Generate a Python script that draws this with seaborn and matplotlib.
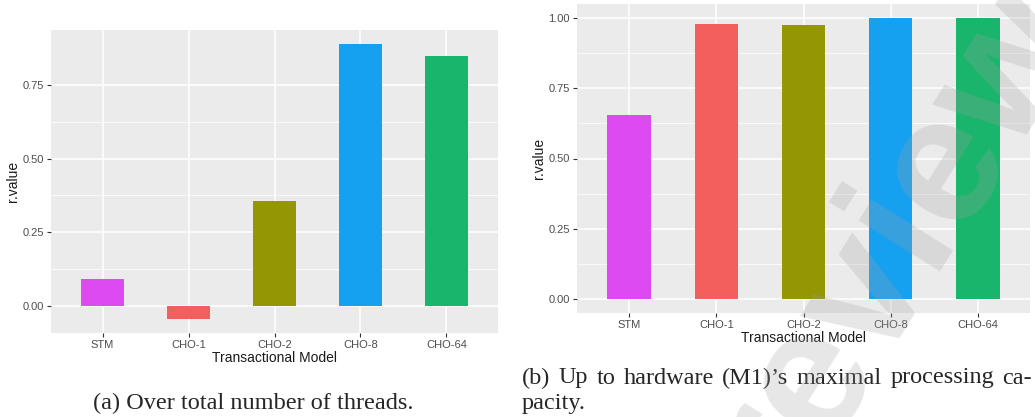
import matplotlib
matplotlib.use("Agg")
import matplotlib.pyplot as plt
from matplotlib.ticker import FixedLocator
import seaborn as sns

# data
models = ["STM", "CHO-1", "CHO-2", "CHO-8", "CHO-64"]
r_threads = [0.091, -0.046, 0.355, 0.891, 0.850]
r_hardware = [0.654, 0.980, 0.974, 1.000, 1.000]
bar_colors = ["#DD4AF0", "#F25F5C", "#949603", "#16A0F0", "#1AB56C"]

yticks_a = [0.0, 0.25, 0.5, 0.75]
yticks_b = [0.0, 0.25, 0.5, 0.75, 1.0]

sns.set_style("darkgrid", {"axes.facecolor": "#EBEBEB", "grid.color": "white"})
plt.rcParams["font.family"] = ["Liberation Sans", "DejaVu Sans"]

W, H = 1035, 417
fig = plt.figure(figsize=(W / 100, H / 100), dpi=100)


def px_axes(x0, y0, x1, y1):
    return fig.add_axes([x0 / W, 1 - y1 / H, (x1 - x0) / W, (y1 - y0) / H])


def gg_bar(ax, values, ylim, yticks):
    sns.barplot(x=models, y=values, hue=models, palette=bar_colors, width=0.5,
                saturation=1, linewidth=0, legend=False, ax=ax, zorder=3)
    ax.set_xlim(-0.6, len(models) - 0.4)
    ax.set_ylim(*ylim)
    ax.yaxis.set_major_locator(FixedLocator(yticks))
    ax.set_yticklabels([f"{t:.2f}" for t in yticks])
    minors = [t + 0.125 for t in yticks[:-1]]
    ax.yaxis.set_minor_locator(FixedLocator(minors))
    ax.grid(which="major", color="white", linewidth=1.1, zorder=0)
    ax.grid(which="minor", axis="y", color="white", linewidth=0.55, zorder=0)
    ax.set_axisbelow(True)
    for s in ax.spines.values():
        s.set_visible(False)
    ax.tick_params(axis="both", which="major", length=3, width=0.8, color="#333333",
                   labelsize=8, labelcolor="#4D4D4D", pad=2, bottom=True, left=True)
    ax.tick_params(axis="both", which="minor", length=0)
    ax.set_xlabel("Transactional Model", fontsize=10, color="#1A1A1A", labelpad=1)
    ax.set_ylabel("r.value", fontsize=10, color="#1A1A1A", labelpad=2)


ax1 = px_axes(51, 30, 498, 333)
gg_bar(ax1, r_threads, (-0.093, 0.938), yticks_a)

ax2 = px_axes(577, 4, 1030, 313)
gg_bar(ax2, r_hardware, (-0.05, 1.05), yticks_b)

# captions
serif = ["Liberation Serif", "DejaVu Serif"]
cap_size = 17.5
fig.text(253 / W, 1 - 403 / H, "(a) Over total number of threads.", family=serif,
         fontsize=cap_size, ha="center", va="center")

# justified first line of caption (b)
words = ["(b)", "Up", "to", "hardware", "(M1)\u2019s", "maximal", "processing", "ca-"]
x_left, x_right, y_line = 522, 1032, 378
fig.canvas.draw()
renderer = fig.canvas.get_renderer()
texts = [fig.text(0, 1 - y_line / H, w, family=serif, fontsize=cap_size, ha="left",
                  va="center") for w in words]
widths = [t.get_window_extent(renderer).width for t in texts]
gap = (x_right - x_left - sum(widths)) / (len(words) - 1)
x = x_left
for t, w in zip(texts, widths):
    t.set_x(x / W)
    x += w + gap
fig.text(x_left / W, 1 - 404 / H, "pacity.", family=serif, fontsize=cap_size,
         ha="left", va="center")

# watermark
fig.text(895 / W, 1 - 238 / H, "review", rotation=58, rotation_mode="anchor",
         ha="center", va="center", fontsize=130, fontweight="bold", color="#A0A0A0",
         alpha=0.25, family=["Liberation Sans"], zorder=10)

fig.savefig("out.png", dpi=100)
